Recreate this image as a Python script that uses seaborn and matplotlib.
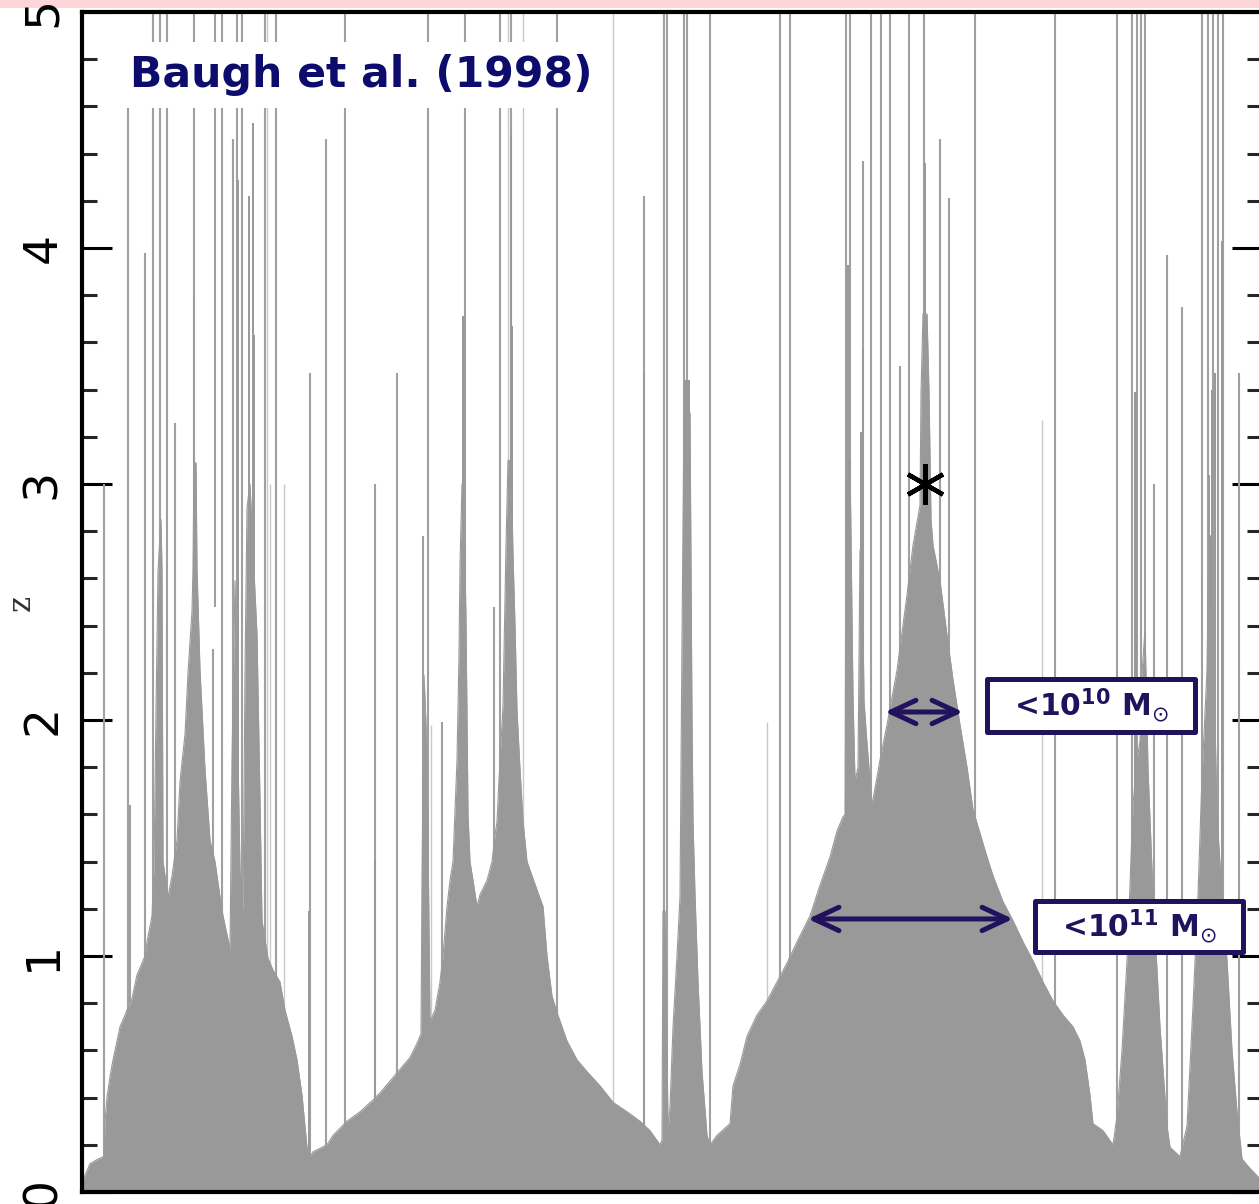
import matplotlib
matplotlib.use("Agg")
import matplotlib.pyplot as plt
from matplotlib.patches import Rectangle
from matplotlib.ticker import MultipleLocator
import pandas as pd
import seaborn as sns

sns.set_theme(style="ticks")
plt.rcParams["font.family"] = ["DejaVu Sans"]
plt.rcParams["mathtext.fontset"] = "dejavusans"

# ---- merger-tree silhouette: outline of the halo mass (branch position, redshift) ----
env_x = [0, 3, 10, 18, 24, 25, 27, 30, 33, 40, 47, 52, 57, 65, 67, 72, 74, 76, 78, 81,
         82, 83, 88, 92, 97, 100, 105, 108, 112, 113, 114, 116, 117, 120, 125, 130, 135, 140, 143, 150,
         152, 155, 160, 163, 165, 167, 170, 173, 177, 180, 182, 188, 193, 200, 205, 212, 217, 222, 227, 230,
         233, 247, 253, 267, 280, 293, 300, 310, 320, 330, 337, 341, 342, 344, 346, 348, 350, 355, 360, 363,
         367, 370, 373, 377, 379, 380, 382, 384, 386, 388, 390, 393, 397, 400, 407, 412, 415, 417, 420, 423,
         426, 428, 431, 433, 435, 437, 440, 443, 447, 452, 457, 463, 467, 472, 477, 482, 487, 497, 507, 520,
         533, 547, 560, 570, 580,
         582, 583, 585, 587, 588, 590, 593, 597, 600, 602, 604, 610, 612, 613, 615, 618, 622, 627, 630,
         637, 650, 653, 660, 667, 677, 687, 697, 707, 717, 730, 740, 750, 757, 763, 765, 766, 770, 773, 775,
         778, 780, 782, 784, 787, 792, 800, 807, 817, 827, 833, 840, 841, 843, 847, 849, 851, 853, 860, 867,
         873, 880, 887, 893, 900, 907, 913, 923, 933, 943, 953, 963, 973, 983, 993, 1000, 1005, 1010, 1013, 1023,
         1033,
         1037, 1042, 1047, 1050, 1053, 1057, 1060, 1062, 1065, 1067, 1068, 1073, 1080, 1087, 1090, 1100,
         1107, 1113, 1118, 1122, 1127, 1129, 1131, 1133, 1137, 1142, 1147, 1152, 1157, 1162, 1170, 1179, 1182]
env_z = [0.00, 0.05, 0.12, 0.14, 0.15, 0.30, 0.40, 0.49, 0.56, 0.70, 0.77, 0.82, 0.92, 1.00, 1.06, 1.17, 1.38, 2.04, 2.63, 2.85,
         2.63, 1.40, 1.25, 1.34, 1.49, 1.74, 1.94, 2.20, 2.46, 2.64, 3.09, 3.09, 2.64, 2.21, 1.79, 1.49, 1.40, 1.25, 1.17, 1.03,
         1.83, 2.59, 1.36, 1.19, 2.20, 2.90, 3.00, 2.72, 2.36, 1.66, 1.15, 0.99, 0.94, 0.89, 0.77, 0.66, 0.56, 0.41, 0.19, 0.15,
         0.17, 0.20, 0.24, 0.30, 0.34, 0.39, 0.42, 0.47, 0.52, 0.57, 0.63, 0.67, 1.32, 2.19, 1.98, 1.50, 0.72, 0.77, 0.89, 1.00,
         1.21, 1.32, 1.40, 1.83, 2.28, 2.66, 3.00, 2.90, 2.42, 1.60, 1.40, 1.32, 1.21, 1.26, 1.32, 1.40, 1.51, 1.57, 1.83, 2.06,
         2.74, 3.10, 3.10, 2.70, 2.40, 2.04, 1.79, 1.57, 1.40, 1.34, 1.28, 1.21, 1.00, 0.83, 0.76, 0.70, 0.64, 0.56, 0.51, 0.45,
         0.38, 0.34, 0.30, 0.26, 0.20,
         0.22, 1.19, 1.19, 0.63, 0.26, 0.36, 0.70, 1.00, 1.25, 2.34, 3.30, 3.30, 2.00, 1.57, 1.26, 0.89, 0.51, 0.24, 0.20,
         0.24, 0.29, 0.45, 0.54, 0.66, 0.75, 0.81, 0.89, 0.97, 1.06, 1.17, 1.30, 1.42, 1.53, 1.59, 1.60, 2.97, 3.10, 2.10, 1.74,
         1.80, 2.72, 2.72, 2.08, 1.90, 1.64, 1.83, 1.98, 2.21, 2.53, 2.74, 2.91, 3.39, 3.72, 3.72, 3.39, 2.85, 2.74, 2.59, 2.36,
         2.17, 1.98, 1.80, 1.62, 1.52, 1.42, 1.34, 1.23, 1.15, 1.06, 0.98, 0.89, 0.81, 0.75, 0.70, 0.64, 0.56, 0.41, 0.29, 0.26,
         0.20,
         0.32, 0.60, 0.98, 1.30, 1.64, 1.83, 1.91, 2.20, 2.38, 2.00, 1.79, 1.26, 0.70, 0.28, 0.19, 0.15,
         0.28, 0.79, 1.26, 1.76, 2.21, 2.78, 2.78, 2.40, 1.59, 1.26, 0.98, 0.60, 0.34, 0.14, 0.10, 0.06, 0.03]

# ---- narrow massive progenitor branches (centre, width, top redshift) ----
spike_x = [113.5, 158, 169, 173, 174, 383, 431, 431, 607, 768, 781, 783, 845, 845, 1055, 1129, 1132, 1135, 1142, 229, 295, 564]
spike_w = [1.5, 2.0, 1.5, 1.5, 2.5, 3.0, 1.5, 3.0, 6.0, 2.5, 2.5, 2.0, 2.0, 1.2, 3.0, 2.5, 2.0, 2.0, 2.0, 2.0, 2.0, 2.0]
spike_z = [3.80, 4.29, 4.22, 4.53, 3.63, 3.71, 4.48, 3.67, 3.44, 3.93, 3.22, 3.57, 4.21, 4.36, 3.39, 3.04, 3.40, 3.47, 4.03, 1.19, 1.41, 3.47]

# ---- thin progenitor branches (position, lowest z, highest z, faint) ----
line_x = [24, 48, 50, 65, 73, 80, 87, 95, 114, 133, 135, 142, 153, 157, 162, 185, 187, 190, 196, 204,
          230, 246, 265, 295, 317, 343, 348, 351, 362, 385, 414, 420, 428, 431, 443, 477, 533, 564, 584, 587,
          604, 607, 630, 687, 700, 710, 766, 770, 783, 791, 801, 810, 820, 829, 844, 860, 869, 895, 962, 975,
          1037, 1052, 1057, 1061, 1065, 1074, 1087, 1102, 1122, 1128, 1133, 1138, 1143, 1159]
line_lo = [0.1, 0, 0.8, 0, 0, 0, 0, 0, 0, 1.3, 2.48, 0, 0, 0, 0, 0, 0, 0, 0, 0,
           0, 0, 0, 0, 0, 0, 0, 0.7, 0.9, 0, 0, 0, 0, 0, 0, 0, 0, 0, 0, 0,
           0, 0, 0, 0.8, 0, 0, 0, 0, 0, 0, 0, 0, 0, 0, 0, 0, 0, 0, 0, 0,
           0, 0, 0, 0, 0, 0, 0, 0, 0, 0, 0, 0, 0, 0]
line_hi = [3.00, 4.66, 1.64, 3.98, 5.3, 5.3, 5.3, 3.26, 5.3, 2.30, 5.3, 5.3, 4.46, 5.3, 5.3, 5.3, 5.3, 3.00, 5.3, 3.00,
           3.47, 4.46, 5.3, 3.00, 3.47, 2.78, 5.3, 1.98, 1.99, 5.3, 2.48, 5.3, 5.3, 5.3, 5.3, 5.3, 5.3, 4.22, 5.3, 5.3,
           5.3, 5.3, 5.3, 1.99, 5.3, 5.3, 5.3, 5.3, 4.37, 5.3, 5.3, 5.3, 3.50, 5.3, 5.3, 4.46, 4.21, 5.3, 3.27, 5.3,
           5.3, 5.3, 5.3, 5.3, 5.3, 3.00, 3.97, 3.75, 5.3, 5.3, 5.3, 5.3, 5.3, 3.47]
line_faint = [0, 0, 0, 0, 0, 0, 0, 0, 0, 0, 0, 0, 0, 0, 0, 0, 1, 1, 0, 1,
              0, 0, 0, 0, 0, 0, 0, 1, 0, 0, 0, 0, 1, 0, 1, 0, 1, 0, 0, 0,
              0, 0, 0, 1, 0, 0, 0, 0, 0, 0, 0, 0, 0, 0, 0, 0, 0, 0, 1, 0,
              0, 0, 0, 0, 0, 0, 0, 0, 0, 0, 0, 0, 0, 0]

# ---- annotations ----
title_text = "Baugh et al. (1998)"
mass_labels = [r"<10$^{\mathbf{10}}$ M$_{\odot}$", r"<10$^{\mathbf{11}}$ M$_{\odot}$"]
arrow_z = [2.034, 1.157]
arrow_x0 = [805, 728]
arrow_x1 = [883, 933]
galaxy_x, galaxy_z = 845, 3.0

GRAY = "#999999"
INK = "#21125e"

fig = plt.figure(figsize=(12.59, 12.04), dpi=100)
ax = fig.add_axes([82 / 1259, 12 / 1204, 1180 / 1259, 1180 / 1204])

# faint and normal thin branches
lines = pd.DataFrame({"x": line_x, "lo": line_lo, "hi": line_hi, "faint": line_faint})
for faint, grp in lines.groupby("faint"):
    ax.vlines(grp["x"], grp["lo"], grp["hi"],
              colors="#c9c9c9" if faint else "#a0a0a0",
              linewidths=1.0 if faint else 1.5, zorder=1)

# main mass of the tree
env = pd.DataFrame({"x": env_x, "z": env_z})
ax.fill_between(env["x"], 0, env["z"], color=GRAY, lw=0, zorder=2)
sns.lineplot(data=env, x="x", y="z", color=GRAY, lw=0.8, estimator=None,
             sort=False, ax=ax, zorder=2)

# narrow branches above the envelope
ax.bar(spike_x, spike_z, width=spike_w, color=GRAY, linewidth=0, zorder=2)

# title with a white backing box
ax.text(0.0407, 0.9466, title_text, transform=ax.transAxes, fontsize=30.6,
        fontweight="bold", color="#0c0c6c", ha="left", va="center", zorder=6,
        bbox=dict(boxstyle="square,pad=0.28", fc="white", ec="none"))

# mass-threshold boxes
boxes = [(907, 1.951, 208, 0.221), (955, 1.017, 208, 0.218)]
for (bx, bz, bw, bh), label in zip(boxes, mass_labels):
    ax.add_patch(Rectangle((bx, bz), bw, bh, facecolor="white", edgecolor=INK,
                           lw=3.6, zorder=6, joinstyle="round"))
    ax.text(bx + bw / 2, bz + bh / 2, label, fontsize=21.5, fontweight="bold",
            color=INK, ha="center", va="center", zorder=7)

# width arrows
for x0, x1, za in zip(arrow_x0, arrow_x1, arrow_z):
    ax.annotate("", xy=(x1, za), xytext=(x0, za),
                arrowprops=dict(arrowstyle="<->,head_length=0.9,head_width=0.42",
                                color=INK, lw=3.6, shrinkA=0, shrinkB=0,
                                mutation_scale=20, capstyle="round", joinstyle="round"),
                zorder=7)

# observed galaxy marker
ax.plot([galaxy_x], [galaxy_z], marker=(6, 2, 0), ms=29, mew=3.2, color="black",
        linestyle="none", zorder=8)

# axes styling
ax.set_xlim(2, 1182)
ax.set_ylim(0, 5)
ax.set_xticks([])
ax.set_xlabel("")
ax.set_ylabel("")
ax.yaxis.set_major_locator(MultipleLocator(1))
ax.yaxis.set_minor_locator(MultipleLocator(0.2))
ax.tick_params(axis="y", which="major", direction="in", length=21.6, width=2.2,
               left=True, right=True, labelsize=34, pad=12, labelrotation=90,
               colors="black")
ax.tick_params(axis="y", which="minor", direction="in", length=10.8, width=2.2,
               left=True, right=True)
for lbl in ax.get_yticklabels():
    lbl.set_va("center")
for sp in ax.spines.values():
    sp.set_visible(True)
    sp.set_linewidth(3)
    sp.set_color("black")
ax.set_facecolor("white")

fig.text(21 / 1259, 1 - 603 / 1204, "z", rotation=90, ha="center", va="center",
         fontsize=22, family="DejaVu Serif", color="#333333")

# thin pink strip along the top edge
fig.add_artist(Rectangle((0, 1 - 8 / 1204), 1, 8 / 1204, transform=fig.transFigure,
                         facecolor="#fcd6d9", edgecolor="none", zorder=-5))

fig.savefig("out.png", dpi=100, facecolor="white")
